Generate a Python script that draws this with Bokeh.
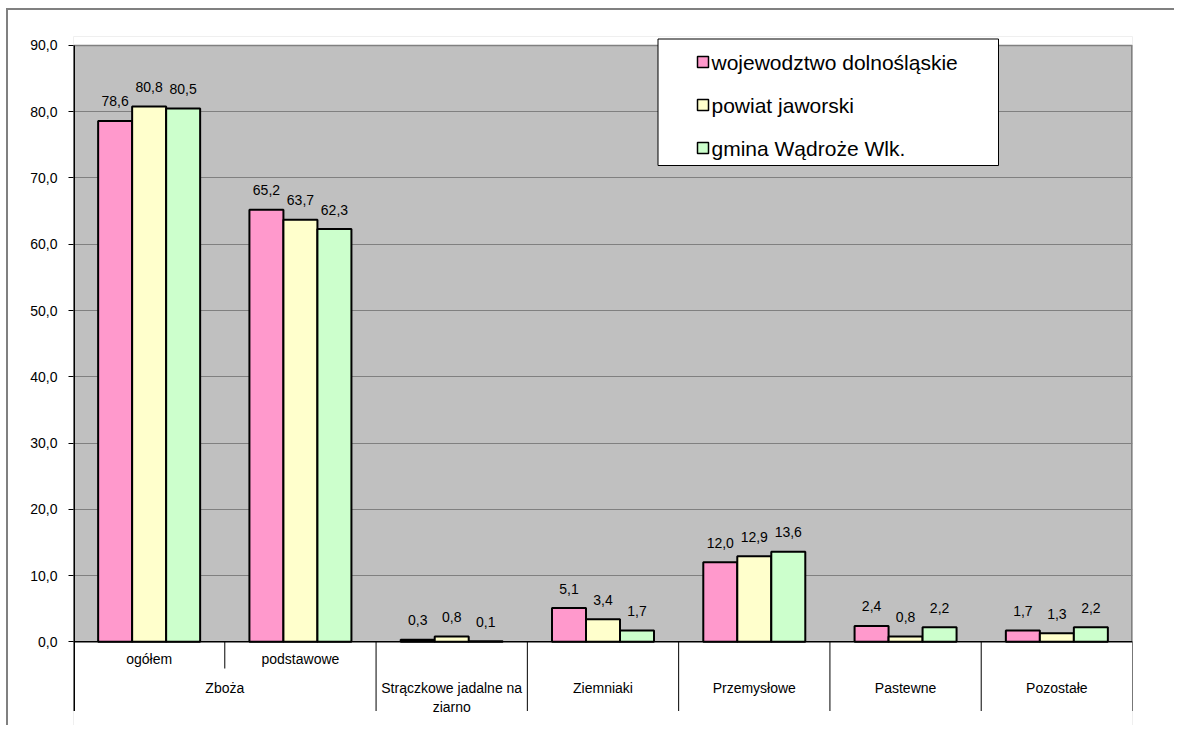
from bokeh.plotting import figure
from bokeh.models import FixedTicker, Range1d, ColumnDataSource
from bokeh.core.properties import value
from bokeh.embed import file_html
from bokeh.resources import INLINE

# ---------------- data ----------------
groups = ["Zboża", "Strączkowe jadalne na\nziarno", "Ziemniaki", "Przemysłowe", "Pastewne", "Pozostałe"]
group_span = [2, 1, 1, 1, 1, 1]
subcats = ["ogółem", "podstawowe"]
series = ["wojewodztwo dolnośląskie", "powiat jaworski", "gmina Wądroże Wlk."]
colors = ["#FF99CC", "#FFFFCC", "#CCFFCC"]
woj = [78.6, 65.2, 0.3, 5.1, 12.0, 2.4, 1.7]
pow_j = [80.8, 63.7, 0.8, 3.4, 12.9, 0.8, 1.3]
gmi = [80.5, 62.3, 0.1, 1.7, 13.6, 2.2, 2.2]
y_ticks = [0, 10, 20, 30, 40, 50, 60, 70, 80, 90]
values = [woj, pow_j, gmi]

FONT = "Liberation Sans"

# ---------------- geometry helpers (page px -> data) ----------------
CANVAS_X = 8   # canvas origin on the page (css margin + border)
CANVAS_Y = 10
PX_X = 1059 / 7.0
PX_Y = 6.626
X0_PAGE = 73.0
Y0_PAGE = 641.3


def xd(px):
    return (px - X0_PAGE) / PX_X


def yd(py):
    return (Y0_PAGE - py) / PX_Y


n_cat = len(woj)
W, H = 1168, 717
FRAME_TOP = 36
FRAME_BOTTOM = CANVAS_Y + H
y_top = yd(FRAME_TOP)
y_bot = yd(FRAME_BOTTOM)
y_sep = yd(710.5)

mb_left = int(X0_PAGE - CANVAS_X)
mb_top = FRAME_TOP - CANVAS_Y
mb_bottom = 0
mb_right = W - mb_left - 1059

p = figure(width=W, height=H, output_backend="svg", toolbar_location=None,
           x_axis_location=None, y_axis_location="left",
           x_range=Range1d(0, n_cat), y_range=Range1d(y_bot, y_top),
           min_border_left=mb_left, min_border_right=mb_right,
           min_border_top=mb_top, min_border_bottom=mb_bottom)
p.styles = {"margin-left": "6px", "margin-top": "8px",
            "border-left": "2px solid #808080", "border-top": "2px solid #808080"}
p.background_fill_color = "#C0C0C0"
p.border_fill_color = "white"
p.outline_line_color = None

# y axis
p.yaxis.ticker = FixedTicker(ticks=y_ticks)
p.yaxis.major_label_overrides = {t: f"{t:.1f}".replace(".", ",") for t in y_ticks}
p.yaxis.axis_line_color = None
p.yaxis.major_tick_out = 5
p.yaxis.major_tick_in = 0
p.yaxis.minor_tick_line_color = None
p.yaxis.major_tick_line_color = "black"
p.yaxis.major_label_standoff = 11
p.yaxis.major_label_text_font = FONT
p.yaxis.major_label_text_font_size = "14px"
p.yaxis.major_label_text_color = "black"

p.xgrid.visible = False
p.ygrid.ticker = FixedTicker(ticks=y_ticks)
p.ygrid.grid_line_color = "#808080"
p.ygrid.grid_line_width = 1

# white areas outside the plot area
p.quad(left=-1, right=n_cat + 1, bottom=y_bot - 5, top=0, fill_color="white", line_color=None)
p.quad(left=-1, right=n_cat + 1, bottom=90, top=y_top + 5, fill_color="white", line_color=None)
# plot area border (top / right)
p.segment(x0=[0], y0=[90], x1=[n_cat], y1=[90], line_color="#808080", line_width=1.5)
p.segment(x0=[n_cat], y0=[0], x1=[n_cat], y1=[90], line_color="#808080", line_width=3)

# bars
bw = 34 / PX_X
offsets = [-bw, 0, bw]
for vals, col, off, name in zip(values, colors, offsets, series):
    xs = [i + 0.5 + off for i in range(n_cat)]
    src = ColumnDataSource(dict(x=xs, top=vals,
                                lab=[f"{v:.1f}".replace(".", ",") for v in vals]))
    p.vbar(x="x", top="top", bottom=0, width=bw, source=src,
           fill_color=col, line_color="black", line_width=2)
    p.text(x="x", y="top", text="lab", source=src, text_align="center",
           text_baseline="middle", y_offset=-19.5,
           text_font=value(FONT), text_font_size="14px", text_color="black")

# axis lines
p.segment(x0=[0], y0=[0], x1=[n_cat], y1=[0], line_color="black", line_width=1.5)
p.segment(x0=[0], y0=[y_sep], x1=[0], y1=[90], line_color="black", line_width=3)

# category separators
long_x = []
acc = 0
centers = []
for s in group_span:
    centers.append(acc + s / 2.0)
    acc += s
    long_x.append(acc)
p.segment(x0=long_x, y0=[0] * len(long_x), x1=long_x, y1=[y_sep] * len(long_x),
          line_color="black", line_width=1)
short_x = [i for i in range(1, len(subcats))]
p.segment(x0=short_x, y0=[0] * len(short_x), x1=short_x, y1=[yd(668)] * len(short_x),
          line_color="black", line_width=1)

# category labels
p.text(x=[i + 0.5 for i in range(len(subcats))], y=[yd(658.5)] * len(subcats), text=subcats,
       text_align="center", text_baseline="middle",
       text_font=value(FONT), text_font_size="14px", text_color="black")
p.text(x=centers, y=[yd(679)] * len(groups), text=groups,
       text_align="center", text_baseline="top", text_line_height=1.2,
       text_font=value(FONT), text_font_size="14px", text_color="black")

# legend (box, markers, labels)
p.quad(left=[xd(657.5)], right=[xd(998)], bottom=[yd(165)], top=[yd(38.5)],
       fill_color="white", line_color="black", line_width=1)
rows_py = [61.5, 104.5, 147.5]
p.scatter(x=[xd(702.5)] * 3, y=[yd(r) for r in rows_py], marker="square", size=11,
          fill_color=colors, line_color="black", line_width=1.5)
p.text(x=[xd(711)] * 3, y=[yd(r) for r in rows_py], text=series,
       text_align="left", text_baseline="middle",
       text_font=value(FONT), text_font_size="21px", text_color="black")

open("out.html", "w").write(file_html(p, INLINE))
